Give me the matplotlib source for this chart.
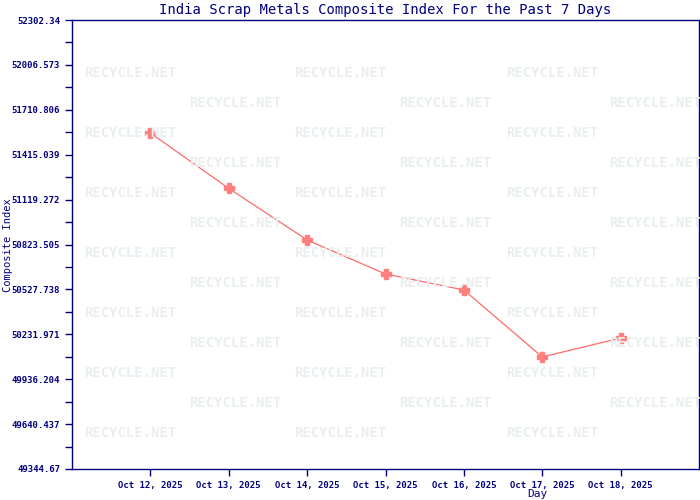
import matplotlib
matplotlib.use("Agg")
import matplotlib.pyplot as plt
import numpy as np

days = ["Oct 12, 2025", "Oct 13, 2025", "Oct 14, 2025", "Oct 15, 2025",
        "Oct 16, 2025", "Oct 17, 2025", "Oct 18, 2025"]
values = [51557.9, 51193.0, 50853.2, 50629.2, 50523.8, 50082.5, 50207.6]
ytick_labels = ["49344.67", "49640.437", "49936.204", "50231.971", "50527.738",
                "50823.505", "51119.272", "51415.039", "51710.806", "52006.573", "52302.34"]

navy = "#000080"
plt.rcParams['font.family'] = ['DejaVu Sans Mono']

fig = plt.figure(figsize=(7, 5), dpi=100)
ax = fig.add_axes([72/700, 31/500, 627/700, 449/500])

# watermark
for r in range(13):
    y = 73 + 30*r
    if y > 460:
        break
    xs = [130, 340, 552] if r % 2 == 0 else [235, 445, 655]
    for x in xs:
        fig.text(x/700, 1 - y/500, "R E C Y C L E . N E T".replace(" ", "\u2009") if False else "RECYCLE.NET",
                 color="#e8efed", fontsize=10, fontweight='bold',
                 ha='center', va='center', zorder=0)

x = np.arange(len(days))
ax.plot(x, values, color="#ff6b6b", lw=0.9, marker='P', markersize=6.5,
        markerfacecolor="#ff7f7f", markeredgecolor="#ff7f7f", zorder=3)

yt = [float(v) for v in ytick_labels]
ax.set_ylim(yt[0], yt[-1])
ax.set_yticks(yt)
ax.set_yticklabels(ytick_labels)
ax.set_yticks([(yt[i] + yt[i+1]) / 2 for i in range(len(yt)-1)], minor=True)
ax.set_xlim(-1, 7)
ax.set_xticks(x)
ax.set_xticklabels(days)
ax.patch.set_alpha(0)

ax.tick_params(axis='both', colors=navy, labelsize=6.5, direction='out', length=5, width=1)
ax.tick_params(axis='y', which='minor', colors=navy, length=5, width=1)
for lab in ax.get_xticklabels() + ax.get_yticklabels():
    lab.set_color(navy)
    lab.set_fontweight('bold')
for s in ax.spines.values():
    s.set_color(navy)
    s.set_linewidth(1)

ax.set_title("India Scrap Metals Composite Index For the Past 7 Days", color=navy,
             fontsize=10, pad=4)
fig.text(8/700, 1 - 245/500, "Composite Index", rotation=90, color=navy,
         fontsize=7.5, ha='center', va='center')
fig.text(537/700, 1 - 494/500, "Day", color=navy, fontsize=8, ha='center', va='center')

fig.savefig("out.png", dpi=100)
